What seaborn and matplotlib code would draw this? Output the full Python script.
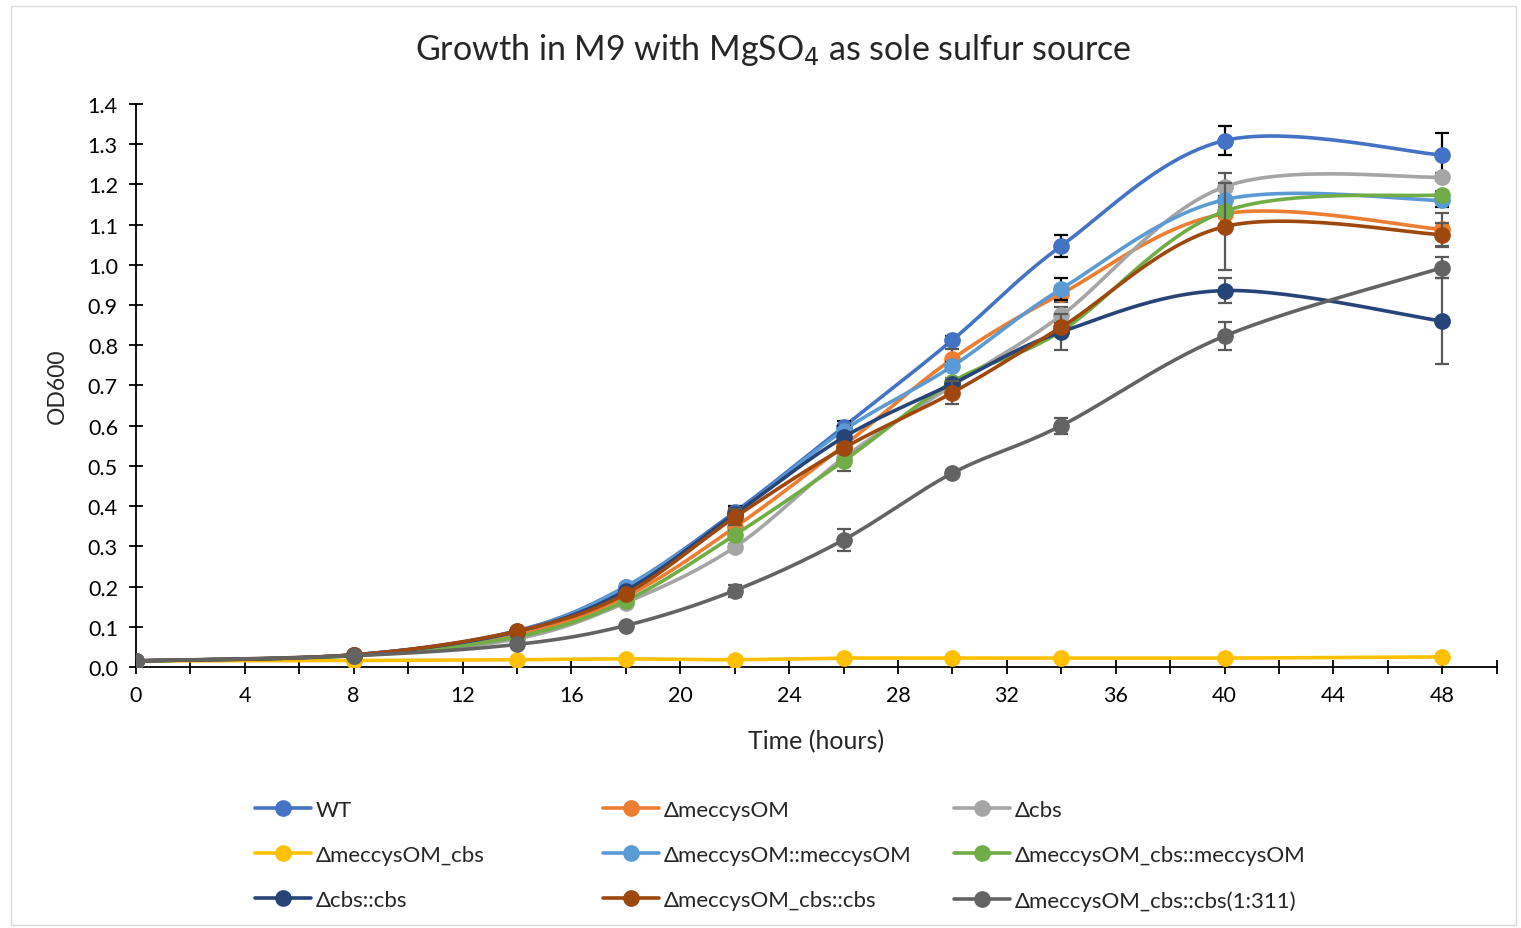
import numpy as np
import pandas as pd
import matplotlib
matplotlib.use("Agg")
import matplotlib.pyplot as plt
from matplotlib.lines import Line2D
from matplotlib.patches import Rectangle
import seaborn as sns

# DATA
hours = [0, 8, 14, 18, 22, 26, 30, 34, 40, 48]
strains = ["WT", "ΔmeccysOM", "Δcbs", "ΔmeccysOM_cbs", "ΔmeccysOM::meccysOM",
           "ΔmeccysOM_cbs::meccysOM", "Δcbs::cbs", "ΔmeccysOM_cbs::cbs",
           "ΔmeccysOM_cbs::cbs(1:311)"]
wt = [0.015, 0.030, 0.090, 0.200, 0.385, 0.597, 0.813, 1.047, 1.309, 1.273]
meccysOM = [0.015, 0.030, 0.080, 0.175, 0.347, 0.550, 0.766, 0.928, 1.127, 1.088]
cbs = [0.015, 0.028, 0.070, 0.160, 0.298, 0.520, 0.700, 0.874, 1.194, 1.218]
meccysOM_cbs = [0.015, 0.016, 0.018, 0.020, 0.018, 0.022, 0.022, 0.022, 0.022, 0.025]
meccysOM_comp = [0.015, 0.030, 0.088, 0.199, 0.380, 0.588, 0.748, 0.940, 1.162, 1.160]
meccysOM_cbs_comp = [0.015, 0.028, 0.075, 0.165, 0.328, 0.512, 0.709, 0.835, 1.133, 1.174]
cbs_comp = [0.015, 0.030, 0.088, 0.190, 0.380, 0.571, 0.704, 0.833, 0.936, 0.860]
meccysOM_cbs_cbs = [0.015, 0.030, 0.089, 0.182, 0.372, 0.544, 0.682, 0.845, 1.095, 1.075]
meccysOM_cbs_311 = [0.015, 0.028, 0.056, 0.103, 0.190, 0.316, 0.482, 0.600, 0.823, 0.993]

# error bars (sd)
wt_err = [0, 0, 0.004, 0.006, 0.015, 0.015, 0.010, 0.028, 0.036, 0.055]
meccysOM_err = [0, 0, 0, 0.005, 0.010, 0.010, 0.025, 0.020, 0.010, 0.040]
cbs_err = [0, 0, 0, 0.005, 0.008, 0.010, 0.010, 0.020, 0.035, 0.010]
meccysOM_cbs_err = [0, 0, 0, 0, 0, 0, 0, 0, 0, 0]
meccysOM_comp_err = [0, 0, 0, 0.005, 0.010, 0.010, 0.010, 0.027, 0.010, 0.015]
meccysOM_cbs_comp_err = [0, 0, 0, 0.005, 0.010, 0.025, 0.010, 0.010, 0.010, 0.010]
cbs_comp_err = [0, 0, 0, 0.005, 0.015, 0.010, 0.010, 0.044, 0.032, 0.107]
meccysOM_cbs_cbs_err = [0, 0, 0, 0.005, 0.020, 0.010, 0.029, 0.010, 0.109, 0.030]
meccysOM_cbs_311_err = [0, 0, 0, 0.004, 0.015, 0.028, 0.008, 0.020, 0.035, 0.027]

values = [wt, meccysOM, cbs, meccysOM_cbs, meccysOM_comp, meccysOM_cbs_comp,
          cbs_comp, meccysOM_cbs_cbs, meccysOM_cbs_311]
errors = [wt_err, meccysOM_err, cbs_err, meccysOM_cbs_err, meccysOM_comp_err,
          meccysOM_cbs_comp_err, cbs_comp_err, meccysOM_cbs_cbs_err, meccysOM_cbs_311_err]
colors = ["#4472C4", "#ED7D31", "#A5A5A5", "#FFC000", "#5B9BD5",
          "#70AD47", "#264478", "#9E480E", "#636363"]
err_colors = ["#000000", "#595959", "#595959", "#595959", "#000000",
              "#595959", "#595959", "#595959", "#595959"]


def smooth(x, y, n=30):
    # excel-style smoothed line (catmull-rom bezier)
    x = np.asarray(x, float)
    y = np.asarray(y, float)
    px = np.concatenate([[x[0]], x, [x[-1]]])
    py = np.concatenate([[y[0]], y, [y[-1]]])
    t = np.linspace(0, 1, n)
    xs, ys = [], []
    for i in range(1, len(px) - 2):
        p0 = np.array([px[i], py[i]])
        p3 = np.array([px[i + 1], py[i + 1]])
        c1 = p0 + (p3 - np.array([px[i - 1], py[i - 1]])) / 6
        c2 = p3 - (np.array([px[i + 2], py[i + 2]]) - p0) / 6
        b = ((1 - t) ** 3)[:, None] * p0 + (3 * (1 - t) ** 2 * t)[:, None] * c1 \
            + (3 * (1 - t) * t ** 2)[:, None] * c2 + (t ** 3)[:, None] * p3
        xs.extend(b[:, 0])
        ys.extend(b[:, 1])
    return np.array(xs), np.array(ys)


sns.set_style("white")
plt.rcParams["font.family"] = ["Lato", "DejaVu Sans"]

fig = plt.figure(figsize=(15.21, 9.29), dpi=100)
ax = fig.add_axes([0.0894, 0.281, 0.8946, 0.606])

for i, (name, y, e, c, ec) in enumerate(zip(strains, values, errors, colors, err_colors)):
    cx, cy = smooth(hours, y)
    curve = pd.DataFrame({"x": cx, "y": cy})
    sns.lineplot(data=curve, x="x", y="y", ax=ax, color=c, lw=2.6, sort=False,
                 estimator=None, zorder=3 + i * 3)
    e = np.array(e)
    mask = e > 0
    if mask.any():
        ax.errorbar(np.array(hours)[mask], np.array(y)[mask], yerr=e[mask], fmt="none",
                    ecolor=ec, elinewidth=1.6, capsize=5, capthick=1.6, zorder=4 + i * 3)
    ax.plot(hours, y, "o", color=c, ms=11, zorder=5 + i * 3)

ax.set_xlim(0, 50)
ax.set_ylim(0, 1.4)
ax.set_xticks(range(0, 49, 4))
ax.set_xticks(range(0, 51, 2), minor=True)
ax.set_yticks(np.arange(0, 1.41, 0.1))
ax.set_yticklabels([f"{v:.1f}" for v in np.arange(0, 1.41, 0.1)])
ax.tick_params(axis="both", which="both", direction="inout", length=10, width=1.3,
               colors="black", labelsize=15.5, left=True, bottom=True)
ax.tick_params(axis="x", pad=8)
ax.tick_params(axis="y", pad=8)
for s in ["top", "right"]:
    ax.spines[s].set_visible(False)
for s in ["left", "bottom"]:
    ax.spines[s].set_color("black")
    ax.spines[s].set_linewidth(1.3)

ax.set_xlabel("Time (hours)", fontsize=18, labelpad=17)
ax.set_ylabel("OD600", fontsize=16.5, labelpad=14)
fig.text(773 / 1521, 1 - 50 / 929, "Growth in M9 with MgSO$_4$ as sole sulfur source",
         fontsize=24.5, ha="center", va="center")

# legend laid out row-wise like the original: one legend per column
cols = [[0, 3, 6], [1, 4, 7], [2, 5, 8]]
xs = [255 / 1521, 603 / 1521, 954 / 1521]
for col, x0 in zip(cols, xs):
    hs = [Line2D([0], [0], color=colors[k], lw=2.6, marker="o", ms=11) for k in col]
    fig.legend(hs, [strains[k] for k in col], loc="upper left",
               bbox_to_anchor=(x0, 1 - 801 / 929), frameon=False, fontsize=16,
               handlelength=2.5, handletextpad=0.25, labelspacing=1.13,
               borderpad=0, borderaxespad=0)

fig.patches.append(Rectangle((0.007, 0.003), 0.99, 0.99, transform=fig.transFigure,
                             fill=False, edgecolor="#D9D9D9", lw=1))

fig.savefig("out.png", dpi=100)
